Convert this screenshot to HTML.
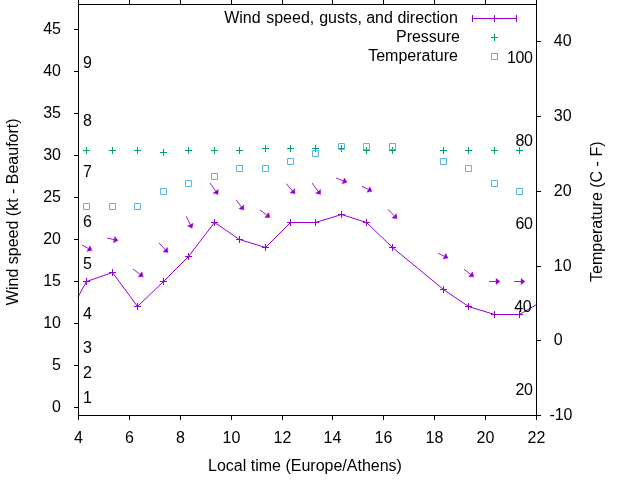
<!DOCTYPE html>
<html><head><meta charset="utf-8"><title>Wind plot</title>
<style>
html,body{margin:0;padding:0;background:#fff;}
body{width:640px;height:480px;overflow:hidden;}
svg{display:block;will-change:transform;}
text{font-family:"Liberation Sans",sans-serif;font-size:16px;fill:#000;}
.ax{stroke:#000;stroke-width:1;fill:none;shape-rendering:crispEdges;}
.p{stroke:#9400D3;stroke-width:1;fill:none;}
.g{stroke:#009E73;stroke-width:1;fill:none;}
.b{stroke:#56B4E9;stroke-width:1;fill:none;}
.e{text-anchor:end}.m{text-anchor:middle}
</style></head><body>
<svg width="640" height="480" viewBox="0 0 640 480">
<rect width="640" height="480" fill="#fff"/>

<text class="m" x="78.5" y="443">4</text>
<text class="m" x="129.5" y="443">6</text>
<text class="m" x="180.5" y="443">8</text>
<text class="m" x="231.5" y="443">10</text>
<text class="m" x="282.5" y="443">12</text>
<text class="m" x="332.5" y="443">14</text>
<text class="m" x="383.5" y="443">16</text>
<text class="m" x="434.5" y="443">18</text>
<text class="m" x="485.5" y="443">20</text>
<text class="m" x="536.5" y="443">22</text>
<text class="e" x="61" y="411.75">0</text>
<text class="e" x="61" y="369.75">5</text>
<text class="e" x="61" y="327.75">10</text>
<text class="e" x="61" y="285.75">15</text>
<text class="e" x="61" y="243.75">20</text>
<text class="e" x="61" y="201.75">25</text>
<text class="e" x="61" y="159.75">30</text>
<text class="e" x="61" y="117.75">35</text>
<text class="e" x="61" y="75.75">40</text>
<text class="e" x="61" y="33.75">45</text>
<text x="549.4" y="419.75">-10</text>
<text x="553.8" y="344.75">0</text>
<text x="553.8" y="270.75">10</text>
<text x="553.8" y="195.75">20</text>
<text x="553.8" y="120.75">30</text>
<text x="553.8" y="45.75">40</text>
<text class="m" transform="translate(17.5,211.75) rotate(-90)">Wind speed (kt - Beaufort)</text>
<text class="m" transform="translate(601.5,211.75) rotate(-90)">Temperature (C - F)</text>
<text class="m" x="305" y="470.75">Local time (Europe/Athens)</text>
<text y="22.5"><tspan x="224.2">Wind</tspan> <tspan x="266.2">speed,</tspan> <tspan x="319.2">gusts,</tspan> <tspan x="366.2">and</tspan> <tspan x="397.4">direction</tspan></text>
<text class="e" x="460" y="41.5">Pressure</text>
<text class="e" x="458" y="60.5">Temperature</text>
<path class="p" d="M472 18.5H517M472.5 15v7M516.5 15v7M494.5 15v7"/>
<path class="g" d="M491 37.5h7M494.5 34v7"/>
<rect class="b" x="491.5" y="53.5" width="6" height="6"/>
<polyline class="p" points="78,297 86.5,281.5 112.5,272.5 137.5,306.5 163.5,281.5 188.5,256.5 214.5,222.5 239.5,239.5 265.5,247.5 290.5,222.5 315.5,222.5 341.5,214.5 366.5,222.5 392.5,247.5 443.5,289.5 468.5,306.5 494.5,314.5 519.5,314.5 536.5,304.5"/>
<path class="p" d="M83 281.5h7M86.5 278v7M109 272.5h7M112.5 269v7M134 306.5h7M137.5 303v7M160 281.5h7M163.5 278v7M185 256.5h7M188.5 253v7M211 222.5h7M214.5 219v7M236 239.5h7M239.5 236v7M262 247.5h7M265.5 244v7M287 222.5h7M290.5 219v7M312 222.5h7M315.5 219v7M338 214.5h7M341.5 211v7M363 222.5h7M366.5 219v7M389 247.5h7M392.5 244v7M440 289.5h7M443.5 286v7M465 306.5h7M468.5 303v7M491 314.5h7M494.5 311v7M516 314.5h7M519.5 311v7"/>
<path class="g" d="M83 150.5h7M86.5 147v7M109 150.5h7M112.5 147v7M134 150.5h7M137.5 147v7M160 152.5h7M163.5 149v7M185 150.5h7M188.5 147v7M211 150.5h7M214.5 147v7M236 150.5h7M239.5 147v7M262 148.5h7M265.5 145v7M287 148.5h7M290.5 145v7M312 148.5h7M315.5 145v7M338 148.5h7M341.5 145v7M363 150.5h7M366.5 147v7M389 150.5h7M392.5 147v7M440 150.5h7M443.5 147v7M465 150.5h7M468.5 147v7M491 150.5h7M494.5 147v7M516 150.5h7M519.5 147v7"/>
<path class="b" d="M83.5 203.5h6v6h-6zM109.5 203.5h6v6h-6zM134.5 203.5h6v6h-6zM160.5 188.5h6v6h-6zM185.5 180.5h6v6h-6zM211.5 173.5h6v6h-6zM236.5 165.5h6v6h-6zM262.5 165.5h6v6h-6zM287.5 158.5h6v6h-6zM312.5 150.5h6v6h-6zM338.5 143.5h6v6h-6zM363.5 143.5h6v6h-6zM389.5 143.5h6v6h-6zM440.5 158.5h6v6h-6zM465.5 165.5h6v6h-6zM491.5 180.5h6v6h-6zM516.5 188.5h6v6h-6z"/>
<path class="p" style="stroke-width:0.9" d="M82 245L88.5 248.57M107 238L114.1 239.61M133 269L140.06 274.34M159 243L165.25 249.6M186.25 216.25L190.35 224.7M210 183L215.72 191.22M236.25 200L241.35 206.8M260 210L266.8 215.1M286.25 183.75L292.37 190.74M312 183L318.12 191.28M336 178L343.27 180.84M362 186.25L368.42 189.46M388 209.25L394.25 215.85M438 253.25L444.39 256.28M464 269.25L470.58 274.31M489 281.5L496 281.5M514 281.5L521 281.5"/>
<path fill="#9400D3" stroke="#9400D3" stroke-width="0.4" d="M92 250.5L87 251.29L89.99 245.86ZM118 240.5L113.41 242.64L114.79 236.59ZM143.25 276.75L138.19 276.81L141.93 271.86ZM168 252.5L163 251.73L167.5 247.46ZM192.1 228.3L187.56 226.06L193.14 223.35ZM218 194.5L213.17 192.99L218.26 189.45ZM243.75 210L238.87 208.66L243.83 204.94ZM270 217.5L264.94 217.58L268.66 212.62ZM295 193.75L290.03 192.78L294.7 188.7ZM320.5 194.5L315.63 193.13L320.62 189.44ZM347 182.3L342.15 183.73L344.4 177.96ZM372 191.25L367.04 192.23L369.81 186.69ZM397 218.75L392 217.98L396.5 213.71ZM448 258L443.06 259.08L445.72 253.48ZM473.75 276.75L468.69 276.77L472.47 271.85ZM500 281.5L496 284.6L496 278.4ZM525 281.5L521 284.6L521 278.4Z"/>
<text x="83" y="402.75">1</text>
<text x="83" y="377.75">2</text>
<text x="83" y="352.75">3</text>
<text x="83" y="318.75">4</text>
<text x="83" y="268.75">5</text>
<text x="83" y="226.75">6</text>
<text x="83" y="176.75">7</text>
<text x="83" y="125.75">8</text>
<text x="83" y="67.75">9</text>
<text class="e" x="532.6" y="394.75" letter-spacing="-0.4">20</text>
<text class="e" x="531.3" y="311.75" letter-spacing="-0.4">40</text>
<text class="e" x="532.6" y="228.75" letter-spacing="-0.4">60</text>
<text class="e" x="532.6" y="145.75" letter-spacing="-0.4">80</text>
<text class="e" x="532.6" y="62.75" letter-spacing="-0.4">100</text>
<path class="ax" d="M78.5 4.5H536.5V415.5H78.5Z"/>
<path class="ax" d="M78.5 415.5v4.5M78.5 4.5v-4.5M129.5 415.5v4.5M129.5 4.5v-4.5M180.5 415.5v4.5M180.5 4.5v-4.5M231.5 415.5v4.5M231.5 4.5v-4.5M282.5 415.5v4.5M282.5 4.5v-4.5M332.5 415.5v4.5M332.5 4.5v-4.5M383.5 415.5v4.5M383.5 4.5v-4.5M434.5 415.5v4.5M434.5 4.5v-4.5M485.5 415.5v4.5M485.5 4.5v-4.5M536.5 415.5v4.5M536.5 4.5v-4.5M78.5 407.5h-4.5M78.5 365.5h-4.5M78.5 323.5h-4.5M78.5 281.5h-4.5M78.5 239.5h-4.5M78.5 197.5h-4.5M78.5 155.5h-4.5M78.5 113.5h-4.5M78.5 71.5h-4.5M78.5 29.5h-4.5M536.5 415.5h4.5M536.5 340.5h4.5M536.5 266.5h4.5M536.5 191.5h4.5M536.5 116.5h4.5M536.5 41.5h4.5"/>
</svg></body></html>
